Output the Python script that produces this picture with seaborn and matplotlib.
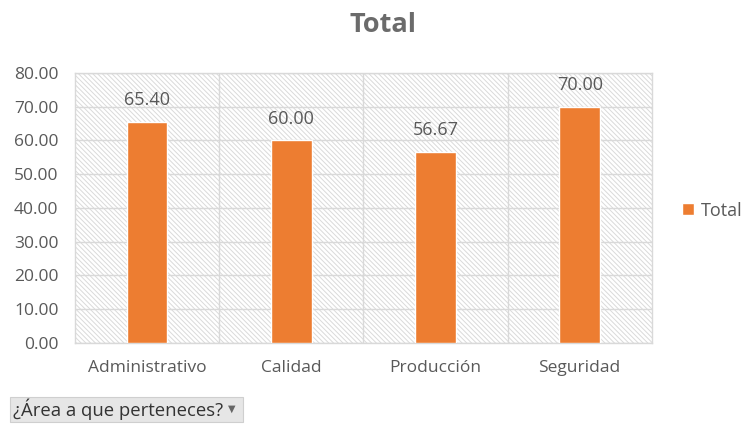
import numpy as np
import pandas as pd
import matplotlib
matplotlib.use("Agg")
import matplotlib.pyplot as plt
import seaborn as sns
from matplotlib.patches import Rectangle, Patch

areas = ["Administrativo", "Calidad", "Producción", "Seguridad"]
totals = [65.40, 60.00, 56.67, 70.00]
yticks = [0, 10, 20, 30, 40, 50, 60, 70, 80]

df = pd.DataFrame({"area": areas, "total": totals})

sns.set_style("white")
plt.rcParams["font.family"] = ["Open Sans", "DejaVu Sans"]
plt.rcParams["hatch.color"] = "#dadada"
plt.rcParams["hatch.linewidth"] = 0.7

orange = "#ed7d31"
gray_txt = "#595959"
grid_c = "#d9d9d9"

fig = plt.figure(figsize=(7.44, 4.24), dpi=100)
ax = fig.add_axes([0.101, 0.191, 0.775, 0.637])

# hatched plot background
ax.add_patch(Rectangle((0, 0), 1, 1, transform=ax.transAxes, facecolor="white",
                       edgecolor="#dadada", hatch="\\" * 7, linewidth=0, zorder=0))

sns.barplot(data=df, x="area", y="total", color=orange, width=0.28,
            saturation=1, ax=ax, zorder=3)

ax.set_ylim(0, 80)
ax.set_xlim(-0.5, len(areas) - 0.5)
ax.set_yticks(yticks)
ax.set_yticklabels([f"{v:.2f}" for v in yticks])
for y in yticks:
    ax.axhline(y, color=grid_c, linewidth=1, zorder=1)
for x in np.arange(0.5, len(areas) - 0.5, 1):
    ax.axvline(x, color=grid_c, linewidth=1, zorder=1)
for s in ax.spines.values():
    s.set_color(grid_c)
    s.set_linewidth(1)

ax.tick_params(axis="y", length=0, labelsize=12.5, labelcolor=gray_txt, pad=12)
ax.tick_params(axis="x", length=0, labelsize=12.5, labelcolor=gray_txt, pad=12)
ax.set_xlabel("")
ax.set_ylabel("")

for i, v in enumerate(totals):
    ax.text(i, v + 3.8, f"{v:.2f}", ha="center", va="bottom", fontsize=13,
            color=gray_txt, zorder=4)

fig.text(0.515, 0.94, "Total", ha="center", va="center", fontsize=19.5,
         fontweight="bold", color="#6b6b6b")

ax.legend(handles=[Patch(facecolor=orange, label="Total")], loc="center left",
          bbox_to_anchor=(1.025, 0.49), frameon=False, fontsize=13,
          handlelength=0.65, handleheight=0.65, handletextpad=0.35,
          labelcolor=gray_txt)

# slicer-style button at the bottom
fig.patches.append(Rectangle((10 / 744, 2 / 424), 233 / 744, 25 / 424,
                             transform=fig.transFigure, facecolor="#e6e6e6",
                             edgecolor="#cfcfcf", linewidth=0.8))
fig.text(13 / 744, 14.5 / 424, "¿Área a que perteneces?", ha="left", va="center",
         fontsize=13.3, color="#333333")
fig.text(232 / 744, 15 / 424, "▼", ha="center", va="center",
         fontsize=7, color="#666666", family="DejaVu Sans")

fig.savefig("out.png", dpi=100)
